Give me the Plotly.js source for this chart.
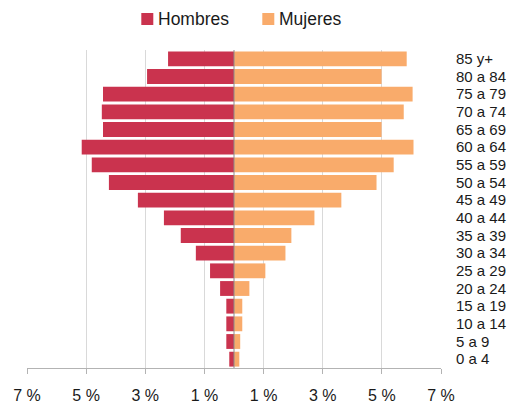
<!DOCTYPE html>
<html>
<head>
<meta charset="utf-8">
<script src="https://cdn.plot.ly/plotly-3.0.1.min.js"></script>
<style>html,body{margin:0;padding:0;background:#fff;}#chart{width:521px;height:406px;}</style>
</head>
<body>
<div id="chart"></div>
<script>
const categories = ["0 a 4","5 a 9","10 a 14","15 a 19","20 a 24","25 a 29","30 a 34","35 a 39","40 a 44","45 a 49","50 a 54","55 a 59","60 a 64","65 a 69","70 a 74","75 a 79","80 a 84","85 y+"];
const hombres = [0.16,0.26,0.26,0.26,0.47,0.81,1.29,1.80,2.37,3.25,4.23,4.81,5.15,4.43,4.47,4.43,2.94,2.23];
const mujeres = [0.18,0.21,0.28,0.28,0.52,1.06,1.74,1.94,2.72,3.63,4.82,5.40,6.07,4.99,5.74,6.04,4.99,5.84];
const seriesNames = ["Hombres","Mujeres"];
const tickVals = [-7,-5,-3,-1,1,3,5,7];
const tickText = ["7 %","5 %","3 %","1 %","1 %","3 %","5 %","7 %"];

const red = "#CA334E", orange = "#F9AB6B";
const font = "Liberation Sans, Arial, sans-serif";

const traces = [
  {type:"bar", orientation:"h", name:seriesNames[0], y:categories, x:hombres.map(v=>-v),
   marker:{color:red}, showlegend:false, hoverinfo:"skip"},
  {type:"bar", orientation:"h", name:seriesNames[1], y:categories, x:mujeres,
   marker:{color:orange}, showlegend:false, hoverinfo:"skip"}
];

// legend drawn as shapes + annotations (pixel-matched)
const L=27, W=414, B=368, H=318;
const px=(p)=>(p-L)/W, py=(p)=>(B-p)/H;

const layout = {
  width:521, height:406,
  margin:{l:27, r:80, t:50, b:38},
  paper_bgcolor:"#fff", plot_bgcolor:"#fff",
  barmode:"overlay", bargap:0.16,
  font:{family:font, color:"#1a1a1a"},
  showlegend:false,
  xaxis:{range:[-7,7], tickvals:tickVals, ticktext:tickText, showgrid:true, gridcolor:"#d9d9d9", gridwidth:1,
         zeroline:false, showline:true, linecolor:"#b3b3b3", linewidth:1, ticks:"outside", ticklen:5, tickcolor:"#b3b3b3",
         tickfont:{size:16, family:font, color:"#1a1a1a"}, ticklabelstandoff:8, fixedrange:true},
  yaxis:{type:"category", categoryorder:"array", categoryarray:categories, tickmode:"array", tickvals:categories,
         side:"right", showgrid:false, zeroline:false,
         showline:false, ticks:"", tickfont:{size:15, family:font, color:"#1a1a1a"}, ticklabelstandoff:14, fixedrange:true,
         range:[-0.5,17.5]},
  shapes:[
    {type:"line", xref:"x", yref:"paper", x0:0, x1:0, y0:0, y1:1, line:{color:"#8c8c8c", width:1}, layer:"above"},
    {type:"rect", xref:"paper", yref:"paper", x0:px(141.3), x1:px(153.3), y0:py(25), y1:py(13), fillcolor:red, line:{width:0}},
    {type:"rect", xref:"paper", yref:"paper", x0:px(262.3), x1:px(274.3), y0:py(25), y1:py(13), fillcolor:orange, line:{width:0}}
  ],
  annotations:[
    {xref:"paper", yref:"paper", x:px(155.5), y:py(19), xanchor:"left", yanchor:"middle", text:seriesNames[0], showarrow:false,
     font:{size:17.5, family:font, color:"#1a1a1a"}},
    {xref:"paper", yref:"paper", x:px(276.5), y:py(19), xanchor:"left", yanchor:"middle", text:seriesNames[1], showarrow:false,
     font:{size:17.5, family:font, color:"#1a1a1a"}}
  ]
};

Plotly.newPlot("chart", traces, layout, {displayModeBar:false, staticPlot:true});
</script>
</body>
</html>
